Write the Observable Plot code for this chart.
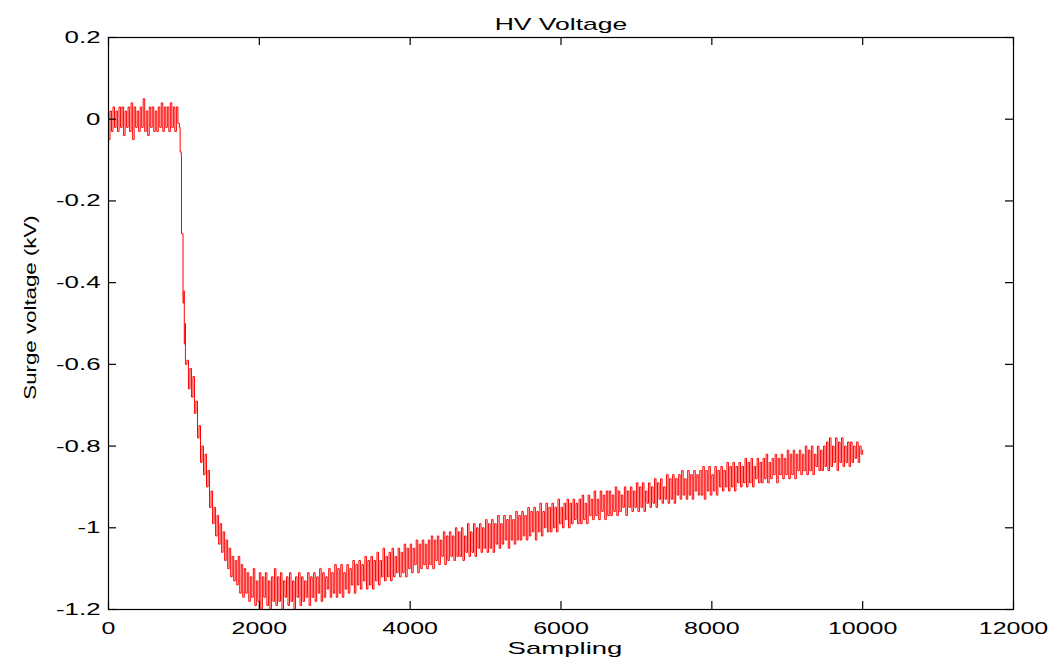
<!DOCTYPE html>
<html>
<head>
<meta charset="utf-8">
<script src="https://cdn.jsdelivr.net/npm/d3@7"></script>
<script src="https://cdn.jsdelivr.net/npm/@observablehq/plot@0.6"></script>
<style>
  html, body { margin: 0; padding: 0; background: #fff; }
  svg { display: block; }
</style>
</head>
<body>
<div id="chart"></div>
<script>
// ---- Data ----
const chartTitle = "HV Voltage";
const xLabel = "Sampling";
const yLabel = "Surge voltage (kV)";
const xTicks = [0, 2000, 4000, 6000, 8000, 10000, 12000];
const yTicks = [-1.2, -1, -0.8, -0.6, -0.4, -0.2, 0, 0.2];

// pre-surge baseline, samples 0..920 every 20
const baseStart = 0, baseStep = 20;
const baseVolts = [
  -0.05, 0.02, -0.03, 0.03, -0.02, 0.02, -0.03, 0.03, -0.02, 0.03,
  -0.04, 0.02, -0.02, 0.03, -0.03, 0.04, -0.05, 0.03, -0.02, 0.02,
  -0.03, 0.03, -0.02, 0.05, -0.03, 0.02, -0.04, 0.03, -0.02, 0.03,
  -0.03, 0.02, -0.03, 0.03, -0.02, 0.04, -0.03, 0.03, -0.02, 0.03,
  -0.03, 0.04, -0.02, 0.03, -0.03, 0.03, -0.01];

// the step-wise drop
const dropSamples = [940, 950, 965, 968, 985, 988, 1000, 1005, 1015, 1020];
const dropVolts = [-0.02, -0.08, -0.09, -0.28, -0.28, -0.45, -0.42, -0.55, -0.50, -0.60];

// decay and slow recovery, samples 1040..10000 every 20
const tailStart = 1040, tailStep = 20;
const tailVolts = [
  -0.59, -0.66, -0.61, -0.68, -0.63, -0.72, -0.69, -0.78, -0.75, -0.84, -0.80, -0.87, -0.82, -0.90, -0.86, -0.95, -0.91, -0.99, -0.95, -1.02,
  -0.97, -1.04, -0.99, -1.06, -1.01, -1.08, -1.03, -1.10, -1.05, -1.12, -1.07, -1.13, -1.08, -1.14, -1.07, -1.16, -1.09, -1.17, -1.10, -1.16,
  -1.11, -1.18, -1.12, -1.17, -1.10, -1.19, -1.13, -1.18, -1.11, -1.20, -1.12, -1.17, -1.11, -1.19, -1.13, -1.20, -1.12, -1.18, -1.10, -1.19,
  -1.12, -1.18, -1.11, -1.20, -1.13, -1.17, -1.12, -1.19, -1.11, -1.18, -1.13, -1.20, -1.12, -1.17, -1.11, -1.19, -1.12, -1.18, -1.13, -1.17,
  -1.11, -1.19, -1.12, -1.17, -1.11, -1.18, -1.12, -1.16, -1.10, -1.18, -1.11, -1.17, -1.12, -1.15, -1.10, -1.17, -1.11, -1.16, -1.09, -1.17,
  -1.10, -1.16, -1.09, -1.17, -1.11, -1.15, -1.09, -1.16, -1.10, -1.14, -1.08, -1.16, -1.09, -1.14, -1.08, -1.15, -1.09, -1.13, -1.07, -1.15,
  -1.08, -1.14, -1.07, -1.15, -1.08, -1.13, -1.06, -1.14, -1.08, -1.12, -1.05, -1.13, -1.07, -1.12, -1.06, -1.13, -1.05, -1.12, -1.07, -1.11,
  -1.05, -1.12, -1.06, -1.11, -1.04, -1.12, -1.05, -1.10, -1.04, -1.11, -1.05, -1.09, -1.03, -1.11, -1.04, -1.10, -1.03, -1.09, -1.04, -1.10,
  -1.03, -1.09, -1.02, -1.10, -1.03, -1.08, -1.02, -1.09, -1.03, -1.07, -1.01, -1.09, -1.02, -1.08, -1.01, -1.07, -1.02, -1.08, -1.00, -1.07,
  -1.01, -1.07, -1.00, -1.08, -1.02, -1.06, -0.99, -1.07, -1.01, -1.06, -0.99, -1.07, -1.00, -1.05, -0.99, -1.06, -1.00, -1.05, -0.98, -1.06,
  -0.99, -1.05, -0.98, -1.06, -0.99, -1.04, -0.97, -1.05, -0.99, -1.04, -0.97, -1.03, -0.98, -1.05, -0.97, -1.03, -0.98, -1.04, -0.96, -1.03,
  -0.97, -1.03, -0.96, -1.02, -0.97, -1.03, -0.95, -1.02, -0.96, -1.01, -0.95, -1.03, -0.96, -1.01, -0.94, -1.02, -0.96, -1.00, -0.94, -1.01,
  -0.95, -1.01, -0.94, -1.00, -0.95, -1.01, -0.93, -0.99, -0.95, -1.00, -0.94, -0.98, -0.93, -1.00, -0.94, -0.99, -0.93, -0.98, -0.94, -0.99,
  -0.93, -0.99, -0.92, -0.98, -0.94, -0.99, -0.92, -0.97, -0.93, -0.98, -0.91, -0.97, -0.93, -0.98, -0.91, -0.96, -0.92, -0.98, -0.91, -0.97,
  -0.91, -0.97, -0.92, -0.96, -0.90, -0.97, -0.91, -0.96, -0.92, -0.95, -0.90, -0.97, -0.91, -0.95, -0.90, -0.96, -0.91, -0.95, -0.89, -0.96,
  -0.90, -0.95, -0.89, -0.96, -0.91, -0.94, -0.89, -0.95, -0.90, -0.94, -0.88, -0.95, -0.89, -0.93, -0.88, -0.94, -0.90, -0.93, -0.87, -0.94,
  -0.88, -0.93, -0.87, -0.94, -0.88, -0.92, -0.87, -0.93, -0.86, -0.92, -0.88, -0.93, -0.86, -0.92, -0.87, -0.93, -0.86, -0.91, -0.87, -0.92,
  -0.86, -0.92, -0.85, -0.93, -0.86, -0.91, -0.85, -0.92, -0.87, -0.91, -0.85, -0.92, -0.86, -0.90, -0.85, -0.91, -0.86, -0.90, -0.84, -0.91,
  -0.85, -0.90, -0.84, -0.91, -0.85, -0.89, -0.84, -0.90, -0.85, -0.89, -0.83, -0.90, -0.84, -0.89, -0.83, -0.90, -0.85, -0.88, -0.83, -0.89,
  -0.84, -0.89, -0.83, -0.88, -0.82, -0.89, -0.84, -0.88, -0.83, -0.87, -0.82, -0.89, -0.83, -0.87, -0.82, -0.88, -0.83, -0.87, -0.81, -0.88,
  -0.82, -0.87, -0.81, -0.88, -0.82, -0.86, -0.81, -0.87, -0.82, -0.86, -0.80, -0.87, -0.81, -0.86, -0.80, -0.87, -0.82, -0.85, -0.80, -0.86,
  -0.81, -0.86, -0.80, -0.85, -0.79, -0.86, -0.78, -0.85, -0.80, -0.84, -0.78, -0.86, -0.79, -0.84, -0.78, -0.85, -0.80, -0.84, -0.79, -0.85,
  -0.79, -0.84, -0.80, -0.83, -0.79, -0.84, -0.80, -0.82, -0.81];

// ---- Build table ----
const data = [];
baseVolts.forEach((v, i) => data.push({s: baseStart + i * baseStep, v}));
dropVolts.forEach((v, i) => data.push({s: dropSamples[i], v}));
tailVolts.forEach((v, i) => data.push({s: tailStart + i * tailStep, v}));

const W = 1059, H = 670;
const mL = 108, mR = 46, mT = 37, mB = 61;
const innerW = W - mL - mR, innerH = H - mT - mB;
const tickLen = 8;
const font = "'Liberation Sans', Arial, Helvetica, sans-serif";

const chart = Plot.plot({
  width: W,
  height: H,
  marginLeft: mL,
  marginRight: mR,
  marginTop: mT,
  marginBottom: mB,
  style: {fontFamily: font, fontSize: "17px", color: "#000", background: "#fff"},
  x: {domain: [0, 12000], ticks: xTicks, label: null},
  y: {domain: [-1.2, 0.2], ticks: yTicks, label: null},
  marks: [
    Plot.line(data, {x: "s", y: "v", stroke: "#ff0000", strokeWidth: 1, curve: "step-after"}),
    Plot.frame({stroke: "#000", strokeWidth: 1.2}),
    // inward ticks on all four sides
    Plot.tickX(xTicks, {x: d => d, insetTop: innerH - tickLen, stroke: "#000", strokeWidth: 1.2}),
    Plot.tickX(xTicks, {x: d => d, insetBottom: innerH - tickLen, stroke: "#000", strokeWidth: 1.2}),
    Plot.tickY(yTicks, {y: d => d, insetRight: innerW - tickLen, stroke: "#000", strokeWidth: 1.2}),
    Plot.tickY(yTicks, {y: d => d, insetLeft: innerW - tickLen, stroke: "#000", strokeWidth: 1.2}),
    Plot.axisX(xTicks, {anchor: "bottom", tickSize: 0, tickPadding: 12, tickFormat: d => String(d), fill: "#000"}),
    Plot.axisY(yTicks, {anchor: "left", tickSize: 0, tickPadding: 8, tickFormat: d => String(d), fill: "#000"}),
    Plot.text([chartTitle], {frameAnchor: "top", textAnchor: "middle", dy: -20, text: d => d, fontSize: 17, fill: "#000"}),
    Plot.text([xLabel], {frameAnchor: "bottom", textAnchor: "middle", dy: 44, dx: 4, text: d => d, fontSize: 17, fill: "#000"}),
    Plot.text([yLabel], {frameAnchor: "left", textAnchor: "middle", dx: -78, dy: -16, rotate: -90, text: d => d, fontSize: 17, fill: "#000"})
  ]
});

document.getElementById("chart").appendChild(chart);

// The reference renders its text horizontally stretched; mimic with textLength.
const stretchFactor = new Map([[chartTitle, 1.56], [xLabel, 1.62], [yLabel, 1.31]]);
chart.querySelectorAll("text").forEach(t => {
  const s = t.textContent;
  let f;
  if (stretchFactor.has(s)) f = stretchFactor.get(s);
  else if (t.closest('[aria-label="x-axis tick label"]')) f = 1.47;
  else if (t.closest('[aria-label="y-axis tick label"]')) f = 1.52;
  if (!f) return;
  const len = t.getComputedTextLength();
  if (len > 0) {
    t.setAttribute("textLength", (len * f).toFixed(1));
    t.setAttribute("lengthAdjust", "spacingAndGlyphs");
  }
});
</script>
</body>
</html>
